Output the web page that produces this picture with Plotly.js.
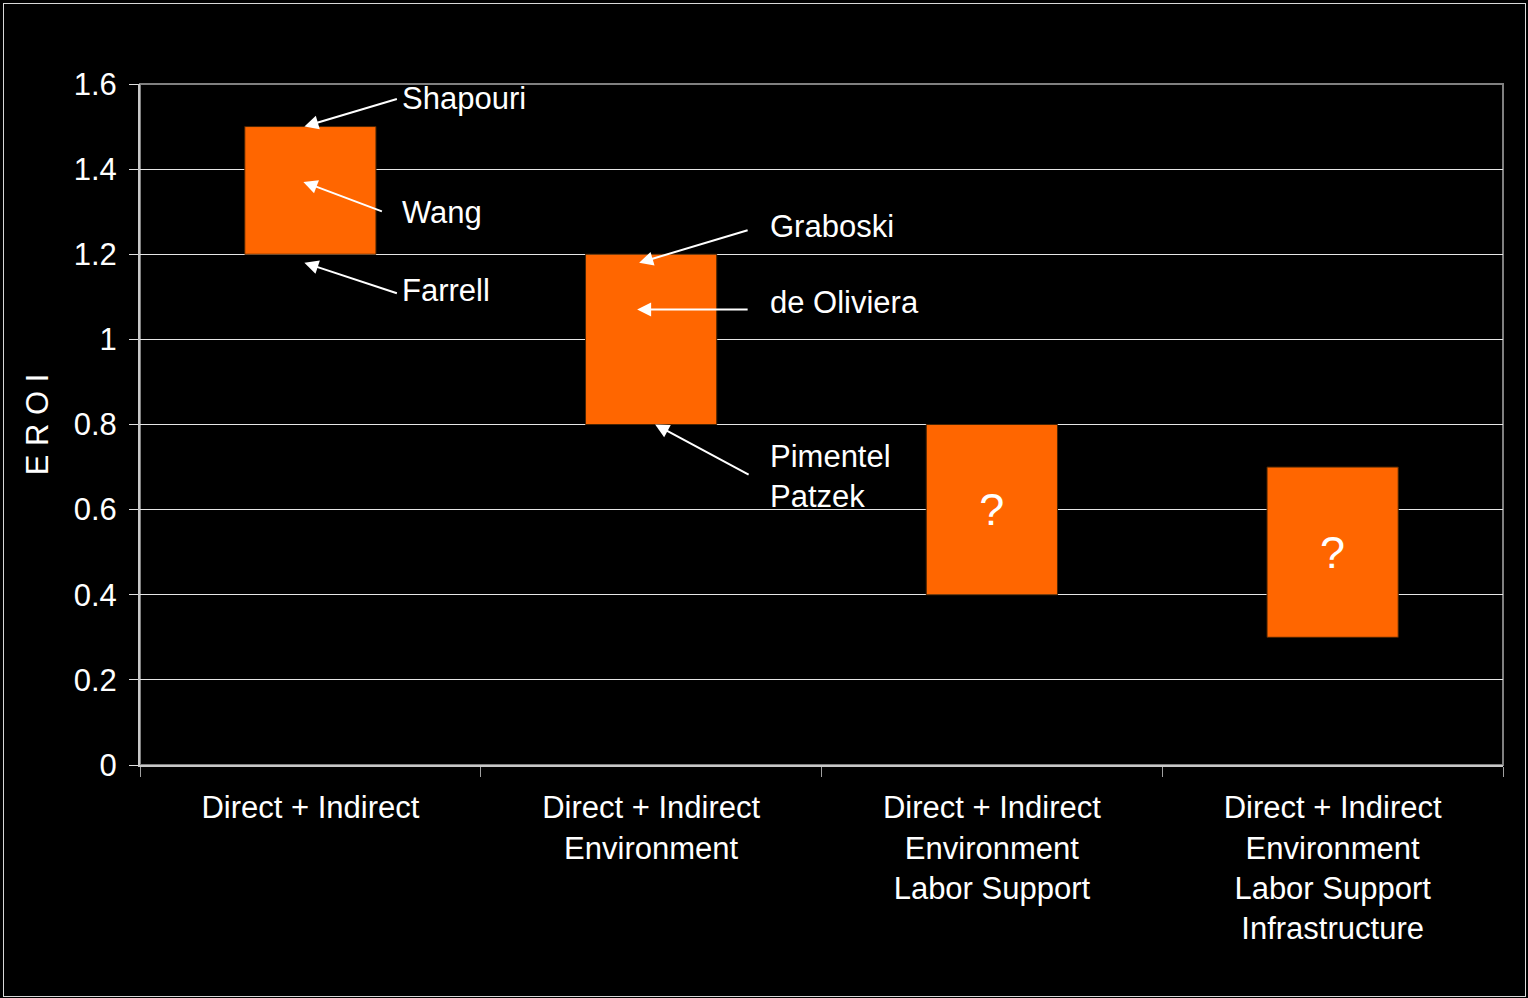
<!DOCTYPE html>
<html>
<head>
<meta charset="utf-8">
<script src="https://cdn.plot.ly/plotly-3.0.1.min.js"></script>
<style>
  html, body { margin:0; padding:0; background:#000; }
  #wrap { position:relative; width:1528px; height:998px; }
  #chart { position:absolute; left:0; top:0; width:1528px; height:998px; }
  #frame { position:absolute; left:3px; top:3px; width:1521px; height:992px; border:1px solid #d8d8d8; pointer-events:none; }
</style>
</head>
<body>
<div id="wrap"><div id="chart"></div><div id="frame"></div></div>
<script>
// Categories (x tick labels)
const categories = [
  "Direct + Indirect",
  "Direct + Indirect<br>Environment",
  "Direct + Indirect<br>Environment<br>Labor Support",
  "Direct + Indirect<br>Environment<br>Labor Support<br>Infrastructure"
];
// EROI range for each category
const eroiLow  = [1.2, 0.8, 0.4, 0.3];
const eroiHigh = [1.5, 1.2, 0.8, 0.7];
const barLabels = ["", "", "?", "?"];

// Study annotations: name, category index, EROI value pointed to
const studyNames  = ["Shapouri", "Wang", "Farrell", "Graboski", "de Oliviera", "Pimentel<br>Patzek"];
const studyCat    = [0, 0, 0, 1, 1, 1];
const studyValues = [1.5, 1.37, 1.18, 1.18, 1.07, 0.8];

const yTicks = [0, 0.2, 0.4, 0.6, 0.8, 1, 1.2, 1.4, 1.6];

const font = "Liberation Sans, Arial, sans-serif";

const trace = {
  type: "bar",
  x: categories,
  base: eroiLow,
  y: eroiHigh.map((h, i) => h - eroiLow[i]),
  width: 0.385,
  marker: { color: "#FF6600", line: { color: "#4a2400", width: 1 } },
  text: barLabels,
  textposition: "inside",
  insidetextanchor: "middle",
  textangle: 0,
  constraintext: "none",
  textfont: { family: font, size: 45, color: "#ffffff" },
  hoverinfo: "skip",
  showlegend: false
};

// Layout-only offsets for arrows (pixels) and text positions
const arrowOffsets = [[-6, 0, 94, -28], [-7, 0, 80, 30], [-6, 0, 94, 31], [-12, 0, 110, -33], [-14, 0, 112, 0], [4, 0, 95, 51]];
const textPos = [[0.264, 1.567], [0.264, 1.297], [0.264, 1.116], [1.344, 1.266], [1.344, 1.086], [1.344, 0.679]];

const annotations = [];
studyNames.forEach((name, i) => {
  const o = arrowOffsets[i];
  annotations.push({
    xref: "x", yref: "y",
    x: studyCat[i], y: studyValues[i],
    xshift: o[0],
    text: "", showarrow: true,
    ax: o[2], ay: o[3],
    arrowhead: 2, arrowsize: 1.4, arrowwidth: 2, arrowcolor: "#ffffff",
    standoff: 0, startstandoff: 0
  });
  annotations.push({
    xref: "x", yref: "y",
    x: textPos[i][0], y: textPos[i][1],
    xanchor: "left", yanchor: "middle", align: "left",
    text: name, showarrow: false,
    font: { family: font, size: 31, color: "#ffffff" }
  });
});

const layout = {
  width: 1528, height: 998,
  paper_bgcolor: "#000000", plot_bgcolor: "#000000",
  margin: { l: 140, r: 25, t: 84, b: 233 },
  font: { family: font, color: "#ffffff", size: 31 },
  bargap: 0.615,
  xaxis: {
    type: "category",
    categoryorder: "array", categoryarray: categories,
    range: [-0.5, 3.5],
    showgrid: false, zeroline: false,
    showline: true, linecolor: "#c8c8c8", linewidth: 2,
    ticks: "outside", tickson: "boundaries", ticklen: 10, tickwidth: 1, tickcolor: "#a0a0a0",
    ticklabelstandoff: 14,
    tickfont: { family: font, size: 31, color: "#ffffff" },
    automargin: false
  },
  xaxis2: {
    overlaying: "x", anchor: "y", side: "bottom",
    range: [-0.5, 3.5],
    tickmode: "array", tickvals: [-0.5, 0.5, 1.5, 2.5, 3.5],
    ticks: "inside", ticklen: 10, tickwidth: 1, tickcolor: "#a0a0a0",
    showticklabels: false, showgrid: false, zeroline: false, showline: false
  },
  yaxis: {
    range: [0, 1.6],
    tickmode: "array", tickvals: yTicks,
    ticktext: yTicks.map(v => String(v)),
    showgrid: true, gridcolor: "#e6e6e6", gridwidth: 1,
    zeroline: false,
    showline: true, linecolor: "#c8c8c8", linewidth: 2,
    ticks: "outside", ticklen: 9, tickwidth: 1, tickcolor: "#e0e0e0",
    ticklabelstandoff: 6,
    tickfont: { family: font, size: 31, color: "#ffffff" },
    title: { text: "E R O I", font: { family: font, size: 31, color: "#ffffff" }, standoff: 16 },
    automargin: false
  },
  shapes: [{
    type: "rect", xref: "paper", yref: "paper", x0: 0, x1: 1, y0: 0, y1: 1,
    line: { color: "#808080", width: 2 }, layer: "below"
  }],
  annotations: annotations
};

Plotly.newPlot("chart", [trace], layout, { displayModeBar: false, staticPlot: true });
</script>
</body>
</html>
